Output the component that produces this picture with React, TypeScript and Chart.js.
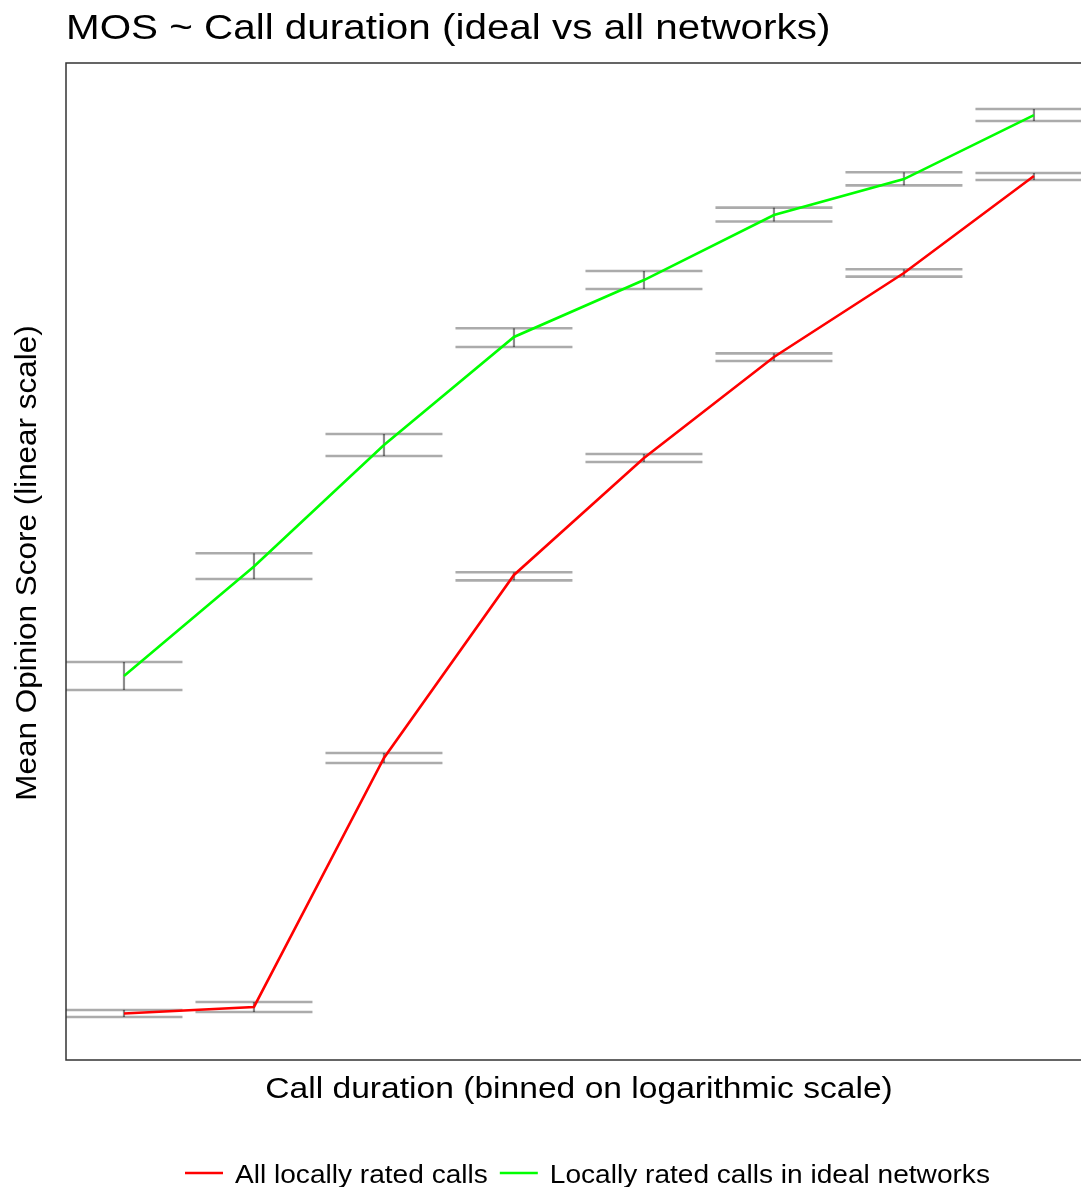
import React, { useEffect, useRef } from "react";
import { Chart, registerables } from "chart.js";

Chart.register(...registerables);

const categories = ["bin 1", "bin 2", "bin 3", "bin 4", "bin 5", "bin 6", "bin 7", "bin 8"];

const allMean = [4.66, 5.32, 30.29, 48.65, 60.38, 70.51, 78.94, 88.67];
const allLow = [4.31, 4.81, 29.79, 48.11, 59.98, 70.11, 78.57, 88.26];
const allHigh = [5.02, 5.82, 30.79, 48.92, 60.78, 70.88, 79.31, 88.97];

const idealMean = [38.52, 49.5, 61.68, 72.52, 78.23, 84.75, 88.36, 94.78];
const idealLow = [37.11, 48.24, 60.58, 71.51, 77.33, 84.1, 87.73, 94.18];
const idealHigh = [39.92, 50.82, 62.79, 73.39, 79.14, 85.49, 89.04, 95.39];

const seriesNames = ["All locally rated calls", "Locally rated calls in ideal networks"];
const seriesColors = ["#ff0000", "#00ff00"];

const titleText = "MOS ~ Call duration (ideal vs all networks)";
const xTitle = "Call duration (binned on logarithmic scale)";
const yTitle = "Mean Opinion Score (linear scale)";

const FONT = "'Liberation Sans', Arial, sans-serif";
const ERR_WIDTH = 0.9;

const errorBars = [
  { low: allLow, high: allHigh },
  { low: idealLow, high: idealHigh },
];

function stretchedText(ctx: any, text: string, x: number, y: number, sx: number, align: string, rotate = 0) {
  ctx.save();
  ctx.translate(x, y);
  if (rotate) ctx.rotate(rotate);
  ctx.scale(sx, 1);
  ctx.textAlign = align;
  ctx.textBaseline = "alphabetic";
  ctx.fillText(text, 0, 0);
  ctx.restore();
}

export default function App() {
  const ref = useRef<HTMLCanvasElement | null>(null);

  useEffect(() => {
    if (!ref.current) return;
    const toPts = (arr: number[]) => arr.map((v, i) => ({ x: i + 1, y: v }));

    const decor = {
      id: "decor",
      beforeDatasetsDraw(chart: any) {
        const { ctx, chartArea, scales } = chart;
        const xs = scales.x;
        const ys = scales.y;
        ctx.save();
        ctx.beginPath();
        ctx.rect(chartArea.left, chartArea.top, chartArea.right - chartArea.left, chartArea.bottom - chartArea.top);
        ctx.clip();
        errorBars.forEach((eb) => {
          categories.forEach((_, i) => {
            const cx = xs.getPixelForValue(i + 1);
            const l = xs.getPixelForValue(i + 1 - ERR_WIDTH / 2);
            const r = xs.getPixelForValue(i + 1 + ERR_WIDTH / 2);
            const yl = ys.getPixelForValue(eb.low[i]);
            const yh = ys.getPixelForValue(eb.high[i]);
            ctx.lineWidth = 2.6;
            ctx.strokeStyle = "rgba(0,0,0,0.33)";
            ctx.beginPath();
            ctx.moveTo(l, yl);
            ctx.lineTo(r, yl);
            ctx.moveTo(l, yh);
            ctx.lineTo(r, yh);
            ctx.stroke();
            ctx.lineWidth = 2.2;
            ctx.strokeStyle = "rgba(0,0,0,0.45)";
            ctx.beginPath();
            ctx.moveTo(cx, yl);
            ctx.lineTo(cx, yh);
            ctx.stroke();
          });
        });
        ctx.restore();
      },
      afterDraw(chart: any) {
        const { ctx, chartArea } = chart;
        ctx.save();
        // panel border (left, top, bottom)
        ctx.strokeStyle = "#333333";
        ctx.lineWidth = 1.5;
        ctx.beginPath();
        ctx.moveTo(chartArea.right + 2, chartArea.top);
        ctx.lineTo(chartArea.left, chartArea.top);
        ctx.lineTo(chartArea.left, chartArea.bottom);
        ctx.lineTo(chartArea.right + 2, chartArea.bottom);
        ctx.stroke();

        ctx.fillStyle = "#000000";
        // title
        ctx.font = `35px ${FONT}`;
        stretchedText(ctx, titleText, chartArea.left, 39, 1.154, "left");

        // x title
        ctx.font = `30px ${FONT}`;
        stretchedText(ctx, xTitle, 579, 1098, 1.12, "center");

        // y title (rotated; stretch along its length)
        ctx.font = `30px ${FONT}`;
        stretchedText(ctx, yTitle, 36, 563, 1.048, "center", -Math.PI / 2);

        // legend
        ctx.font = `26px ${FONT}`;
        let x = 185;
        const ly = 1173;
        const sx = 1.08;
        seriesNames.forEach((name, i) => {
          ctx.strokeStyle = seriesColors[i];
          ctx.lineWidth = 2.5;
          ctx.beginPath();
          ctx.moveTo(x, ly);
          ctx.lineTo(x + 38, ly);
          ctx.stroke();
          x += 38 + 12;
          ctx.fillStyle = "#000000";
          stretchedText(ctx, name, x, 1183, sx, "left");
          x += ctx.measureText(name).width * sx + 12;
        });
        ctx.restore();
      },
    };

    const chart = new Chart(ref.current, {
      type: "line",
      data: {
        datasets: [
          {
            label: seriesNames[0],
            data: toPts(allMean),
            borderColor: seriesColors[0],
            backgroundColor: seriesColors[0],
            borderWidth: 2.6,
            pointRadius: 0,
            tension: 0,
          },
          {
            label: seriesNames[1],
            data: toPts(idealMean),
            borderColor: seriesColors[1],
            backgroundColor: seriesColors[1],
            borderWidth: 2.6,
            pointRadius: 0,
            tension: 0,
          },
        ],
      },
      options: {
        animation: false,
        responsive: false,
        devicePixelRatio: 1,
        layout: { padding: { left: 66, top: 63, right: 0, bottom: 127 } },
        plugins: { legend: { display: false }, title: { display: false }, tooltip: { enabled: false } },
        scales: {
          x: { type: "linear", min: 0.554, max: 8.362, display: false },
          y: { type: "linear", min: 0, max: 100, display: false },
        },
      },
      plugins: [decor],
    });
    return () => chart.destroy();
  }, []);

  return (
    <div style={{ position: "fixed", left: 0, top: 0, width: 1081, height: 1187, background: "#ffffff" }}>
      <canvas ref={ref} width={1081} height={1187} style={{ display: "block", width: 1081, height: 1187 }} />
    </div>
  );
}
